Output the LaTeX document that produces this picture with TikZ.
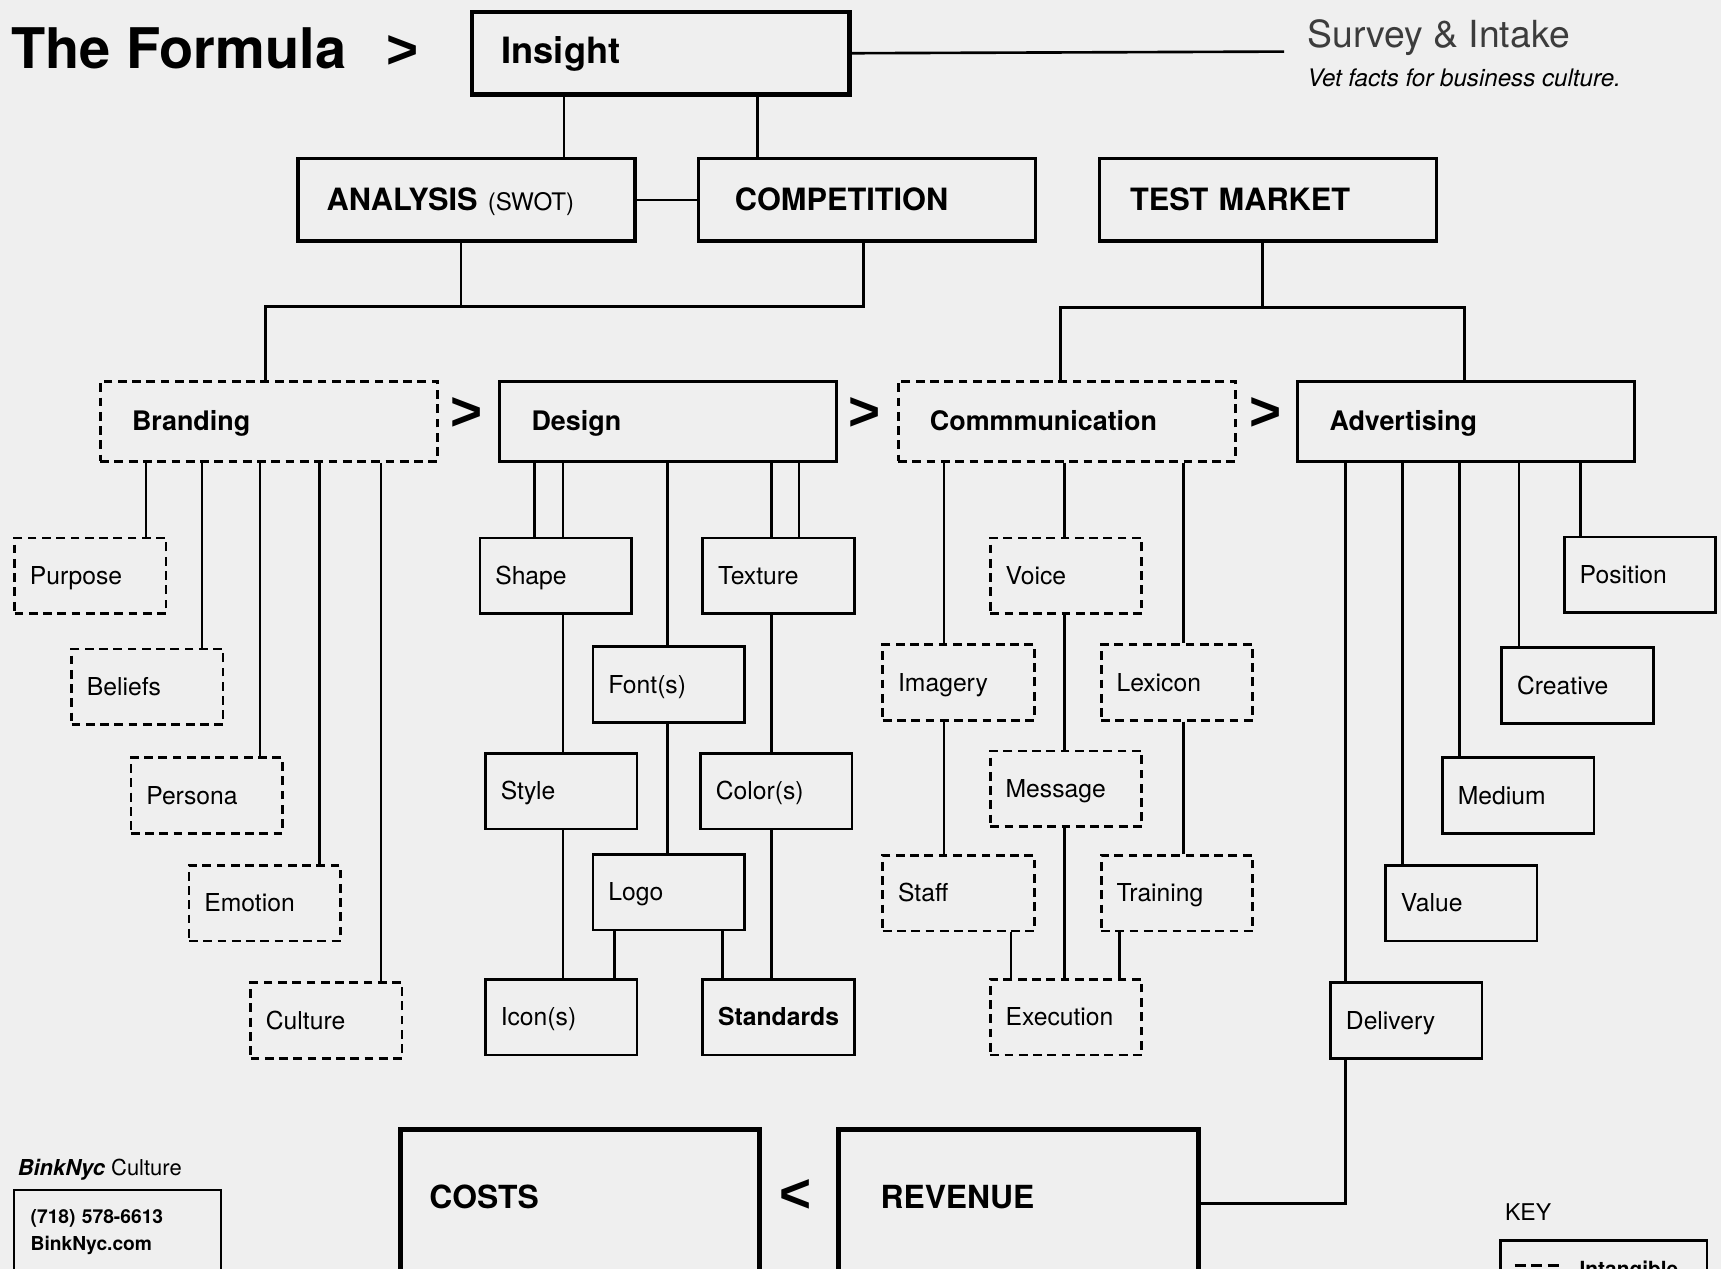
\documentclass[tikz,border=0pt]{standalone}
\usepackage{fontspec}
\setmainfont{TeX Gyre Heros}
\newfontfamily\signfont{Liberation Sans}
\usetikzlibrary{calc}

\definecolor{paper}{RGB}{239,239,239}
\definecolor{inkgrey}{RGB}{60,60,60}

\begin{document}
\begin{tikzpicture}
	[
		x = 1pt, y = -1pt, line width = 2.4pt,
		boxbase/.style = {shape=rectangle, draw=black, anchor=north west, align=left, text height=1.7em, text depth=.1em},
		card/.style = {boxbase, line width=2.5pt, inner xsep=14pt, text width=110pt, minimum height=69pt, font=\fontsize{22.5}{26}\selectfont},
		dcard/.style = {card, dash pattern=on 8pt off 5pt},
		stage/.style = {boxbase, line width=2.6pt, inner xsep=29pt, text width=249pt, minimum height=73pt, font=\fontsize{24.5}{28}\selectfont\bfseries},
		dstage/.style = {stage, dash pattern=on 8pt off 5pt},
		headbox/.style = {boxbase, line width=3.2pt, inner xsep=28pt, text width=251pt, minimum height=75pt, text height=2em, font=\fontsize{28}{32}\selectfont\bfseries},
		moneybox/.style = {boxbase, line width=4.5pt, minimum height=135pt, text height=1.1em, text depth=.24em, font=\fontsize{29}{32}\selectfont\bfseries},
		sign/.style = {inner sep=0pt, font=\signfont\fontsize{50}{50}\selectfont\bfseries},
		words/.style = {anchor=base west, inner sep=0pt}
	]
	
	\fill [paper] (0, 0) rectangle (1568, 1156);
	\useasboundingbox (0, 0) rectangle (1568, 1156);
	
	% top
	\node [words, font=\fontsize{51}{56}\selectfont\bfseries] (title) at (9, 62) {The Formula};
	\node [sign] (gt0) at (367, 47) {>};
	\node [boxbase, line width=4pt, inner xsep=27pt, text width=290pt, minimum height=75pt, text height=1.9em, font=\fontsize{33}{36}\selectfont\bfseries] (insight) at (428, 9) {Insight};
	\coordinate (survey) at (1170, 47);
	\draw (insight.east) -- (survey);
	\node [words, text=inkgrey, font=\fontsize{34}{38}\selectfont] (surveytitle) at (1190, 43) {Survey \& Intake};
	\node [words, font=\fontsize{22}{26}\selectfont\itshape] (surveynote) at (1190, 79) {Vet facts for business culture.};
	
	\node [headbox, inner xsep=26pt, text width=255pt] (analysis) at (270, 143) {ANALYSIS {\mdseries\fontsize{22}{26}\selectfont(SWOT)}};
	\node [headbox, inner xsep=33pt, text width=241pt] (competition) at (635, 143) {COMPETITION};
	\node [headbox] (testmarket) at (1000, 143) {TEST MARKET};
	
	\draw (insight.south -| 514,0) -- (analysis.north -| 514,0);
	\draw (insight.south -| 690,0) -- (competition.north -| 690,0);
	\draw (analysis.east) -- (competition.west);
	
	% stages
	\coordinate (splitL) at (242, 279);
	\coordinate (splitR) at (1150, 280);
	\node [dstage] (branding) at (90, 346) {Branding};
	\node [stage] (design) at (454, 346) {Design};
	\node [dstage] (comm) at (817, 346) {Commmunication};
	\node [stage] (advert) at (1181, 346) {Advertising};
	\node [sign] (gt1) at (425, 377) {>};
	\node [sign] (gt2) at (788, 377) {>};
	\node [sign] (gt3) at (1153, 377) {>};
	
	\draw (analysis.south -| 420,0) -- (splitL -| 420,0);
	\draw (competition.south -| 787,0) |- (splitL) -- (branding.north -| splitL);
	\draw (testmarket.south -| splitR) -- (splitR);
	\draw (comm.north -| 966,0) |- (splitR) -| (advert.north -| 1334,0);
	
	% branding
	\foreach \nm/\lf/\tp/\cx/\lbl in {purpose/12/489/133/Purpose, beliefs/64/590/184/Beliefs, persona/118/689/237/Persona, emotion/171/787/291/Emotion, culture/227/894/347/Culture}
	{
		\node [dcard] (\nm) at (\lf, \tp) {\lbl};
		\draw (branding.south -| \cx,0) -- (\nm.north -| \cx,0);
	}
	
	% design
	\foreach \nm/\lf/\tp/\lbl in {shape/436/489/Shape, texture/639/489/Texture, fonts/539/588/Font(s), style/441/685/Style, colors/637/685/Color(s), logo/539/777/Logo, icons/441/891/Icon(s)}
		{ \node [card] (\nm) at (\lf, \tp) {\lbl}; }
	\node [card, font=\fontsize{22.5}{26}\selectfont\bfseries] (standards) at (639, 891) {Standards};
	
	\foreach \pa/\ch/\cx in {design/shape/487, design/shape/513, design/texture/703, design/texture/728, design/fonts/608, shape/style/513, texture/colors/703, fonts/logo/608, style/icons/513, colors/standards/703, logo/icons/560, logo/standards/658}
		{ \draw (\pa.south -| \cx,0) -- (\ch.north -| \cx,0); }
	
	% communication
	\foreach \nm/\lf/\tp/\lbl in {voice/901/489/Voice, imagery/803/586/Imagery, lexicon/1002/586/Lexicon, message/901/683/Message, staff/803/778/Staff, training/1002/778/Training, execution/901/891/Execution}
		{ \node [dcard] (\nm) at (\lf, \tp) {\lbl}; }
	
	\foreach \pa/\ch/\cx in {comm/voice/970, comm/imagery/860, comm/lexicon/1078, voice/message/970, imagery/staff/860, lexicon/training/1078, message/execution/970, staff/execution/921, training/execution/1020}
		{ \draw (\pa.south -| \cx,0) -- (\ch.north -| \cx,0); }
	
	% advertising
	\foreach \nm/\lf/\tp/\cx/\lbl in {position/1424/488/1440/Position, creative/1367/589/1384/Creative, medium/1313/689/1330/Medium, value/1261/787/1278/Value, delivery/1211/894/1226/Delivery}
	{
		\node [card] (\nm) at (\lf, \tp) {\lbl};
		\draw (advert.south -| \cx,0) -- (\nm.north -| \cx,0);
	}
	
	% bottom
	\node [moneybox, inner xsep=26pt, text width=275pt] (costs) at (363, 1027) {COSTS};
	\node [sign] (lt) at (725, 1090) {<};
	\node [moneybox, inner xsep=38pt, text width=252pt] (revenue) at (762, 1027) {REVENUE};
	\draw (delivery.south -| 1226,0) |- (revenue.east);
	
	\node [words, font=\fontsize{20}{24}\selectfont] (bink) at (15, 1071) {\textbf{\textit{BinkNyc}} Culture};
	\node [draw, anchor=north west, align=left, line width=2pt, inner xsep=15pt, inner ysep=18pt, text width=158pt, font=\fontsize{17.5}{25}\selectfont\bfseries] (contact) at (12, 1083) {(718) 578-6613\\BinkNyc.com};
	
	\node [words, font=\fontsize{21}{24}\selectfont] (keytitle) at (1370, 1112) {KEY};
	\node [draw, anchor=north west, line width=2.4pt, minimum width=188pt, minimum height=60pt, inner sep=0pt] (keybox) at (1366, 1129) {};
	\draw [line width=3pt, dash pattern=on 10pt off 5pt] ($(keybox.north west) + (14, 24)$) -- ++(40, 0);
	\node [words, font=\fontsize{19}{22}\selectfont\bfseries] (intangible) at (1438, 1163) {Intangible};
\end{tikzpicture}
\end{document}
